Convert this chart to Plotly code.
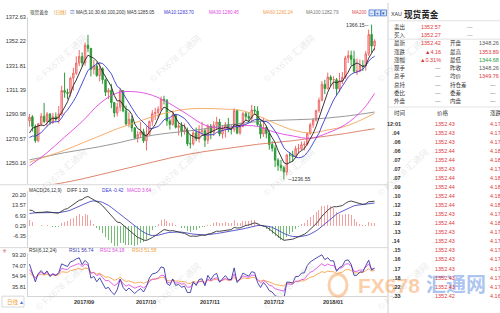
import numpy as np
import pandas as pd
import plotly.graph_objects as go

# ---------------- data ----------------
holidays = [pd.Timestamp("2017-12-25"), pd.Timestamp("2018-01-01")]
dates = [d for d in pd.bdate_range("2017-08-11", "2018-01-26") if d not in holidays]

opens = [1285.6,1289.0,1281.0,1269.0,1283.1,1289.5,1285.0,1291.3,1284.6,1289.0,1287.0,1291.4,1311.0,1309.5,1308.6,
         1321.4,1325.5,1334.0,1339.4,1334.1,1348.9,1346.3,1328.7,1331.6,1323.5,1329.3,1320.1,1309.6,1311.2,1300.9,1292.2,1297.2,1310.9,1294.0,1283.1,1287.0,
         1279.7,1271.3,1274.3,1276.5,1268.9,1274.3,1285.0,1291.7,1292.6,1295.4,1303.5,1302.8,1285.6,1282.6,1290.2,1280.2,1281.6,1276.7,1277.8,1266.5,1266.3,1275.6,
         1270.6,1276.6,1277.4,1269.4,1281.2,1275.9,1282.0,1284.6,1274.6,1278.3,1282.5,1278.7,1278.5,1294.2,1275.4,1280.9,1291.6,1289.3,1287.8,1294.7,1293.9,1282.6,
         1274.6,1280.1,1275.0,1265.8,1262.7,1252.7,1248.4,1246.4,1242.8,1257.1,1257.0,1255.9,1262.3,1262.4,1265.6,1266.1,1274.9,1282.3,1286.3,1294.3,
         1302.8,1316.2,1312.6,1322.3,1319.9,1320.1,1312.4,1319.1,1322.1,1338.3,1340.4,1337.2,1327.1,1327.3,1331.8,1331.6,1341.7,1357.9,1348.26]
highs = [1291.3,1290.4,1282.5,1283.9,1292.2,1300.6,1293.0,1292.2,1292.3,1292.6,1298.0,1315.0,1326.0,1312.5,1322.5,
         1330.0,1339.6,1344.9,1343.0,1351.2,1357.6,1346.6,1336.6,1334.7,1334.4,1330.4,1320.9,1313.0,1316.6,1301.4,1300.9,1313.0,1311.4,1298.5,1292.7,1290.0,
         1280.5,1277.0,1284.7,1279.0,1281.0,1285.9,1294.6,1296.6,1297.8,1306.0,1306.6,1304.0,1287.6,1294.0,1291.5,1284.0,1284.5,1283.3,1280.0,1274.0,1277.4,1280.0,
         1282.0,1284.8,1279.1,1282.8,1283.0,1285.2,1289.0,1287.3,1282.0,1284.5,1288.1,1282.0,1296.1,1295.0,1284.0,1293.0,1293.0,1293.0,1299.0,1298.1,1297.8,1286.0,
         1288.3,1281.4,1277.5,1268.6,1265.2,1254.4,1253.0,1248.0,1258.0,1259.4,1260.5,1264.7,1266.2,1268.3,1268.6,1276.0,1284.0,1288.0,1294.8,1305.1,
         1318.9,1320.0,1326.0,1323.8,1323.0,1321.5,1325.8,1326.5,1340.0,1344.5,1344.4,1344.3,1337.8,1337.0,1336.4,1344.0,1362.0,1366.15,1353.89]
lows = [1281.0,1276.7,1267.3,1267.7,1281.0,1283.7,1281.0,1282.3,1283.0,1285.3,1283.5,1289.9,1305.0,1303.7,1306.0,
        1311.0,1324.0,1331.5,1331.1,1331.7,1343.2,1322.8,1324.5,1322.5,1318.6,1316.6,1306.4,1303.8,1296.2,1288.6,1289.3,1293.6,1292.8,1281.5,1280.2,1276.5,
        1270.0,1267.4,1271.4,1267.1,1260.9,1273.4,1281.5,1286.3,1287.6,1293.8,1299.3,1281.5,1278.3,1281.6,1279.2,1273.4,1272.4,1274.0,1264.6,1262.5,1265.0,1268.5,
        1267.4,1273.0,1263.8,1266.3,1270.3,1272.9,1278.3,1272.7,1270.8,1271.6,1276.0,1274.2,1276.3,1274.3,1274.0,1280.2,1286.0,1284.7,1284.5,1291.0,1281.0,1270.8,
        1272.2,1271.0,1261.6,1260.0,1246.9,1243.8,1243.5,1236.55,1240.0,1251.0,1251.4,1254.4,1258.4,1261.0,1260.9,1265.0,1274.0,1279.8,1285.0,1292.4,
        1302.0,1308.0,1311.8,1314.7,1312.3,1306.9,1309.6,1316.5,1320.8,1334.0,1332.0,1325.9,1323.8,1326.2,1327.4,1327.6,1340.0,1342.6,1344.68]
closes = [1288.7,1281.0,1269.0,1283.1,1289.5,1285.0,1291.3,1284.6,1289.0,1287.0,1291.4,1311.0,1309.5,1308.6,1321.4,
          1325.5,1334.0,1339.4,1334.1,1348.9,1346.3,1328.7,1331.6,1323.5,1329.3,1320.1,1309.6,1311.2,1300.9,1292.2,1297.2,1310.9,1294.0,1283.1,1287.0,1279.7,
          1271.3,1274.3,1276.5,1268.9,1274.3,1285.0,1291.7,1292.6,1295.4,1303.5,1302.8,1285.6,1282.6,1290.2,1280.2,1281.6,1276.7,1277.8,1266.5,1266.3,1275.6,1270.6,
          1276.6,1277.4,1269.4,1281.2,1275.9,1282.0,1284.6,1274.6,1278.3,1282.5,1278.7,1278.5,1294.2,1275.4,1280.9,1291.6,1289.3,1287.8,1294.7,1293.9,1282.6,1274.6,
          1280.1,1275.0,1265.8,1262.7,1252.7,1248.4,1246.4,1242.8,1257.1,1257.0,1255.9,1262.3,1262.4,1265.6,1266.1,1274.9,1282.3,1286.3,1294.3,1302.8,
          1316.2,1312.6,1322.3,1319.9,1320.1,1312.4,1319.1,1322.1,1338.3,1340.4,1337.2,1327.1,1327.3,1331.8,1331.6,1341.7,1357.9,1348.26,1352.42]
# closes just before the first visible candle (warm-up for MA5 / MA10 / RSI)
warmup_close = [1268.8, 1269.9, 1268.9, 1274.1, 1257.7, 1261.1, 1263.9, 1277.9, 1285.6]

ma_idx = [0, 6, 12, 18, 24, 30, 36, 42, 48, 54, 60, 66, 72, 78, 84, 90, 96, 102, 108, 114, 118]
ma30 = [1248, 1259, 1272, 1285, 1300, 1309, 1310, 1307, 1300, 1291, 1282, 1279.5, 1281.5, 1281, 1276, 1273, 1271, 1275.5, 1282.5, 1295, 1308.5]
ma60 = [1251, 1256, 1261, 1267, 1273, 1279, 1284, 1289, 1293, 1295.5, 1296, 1295.5, 1294.5, 1290, 1283.5, 1278, 1275.5, 1278, 1281, 1287, 1292]
ma100 = [1253, 1256, 1259, 1261.5, 1264, 1267, 1270.5, 1273.5, 1275.5, 1277, 1279, 1281.5, 1283.5, 1285, 1286, 1286.5, 1287, 1288, 1289.5, 1291.5, 1293]
ma200 = [1229, 1231.5, 1234, 1237, 1240.5, 1244, 1247.5, 1251, 1254.5, 1257.5, 1260, 1262, 1264, 1266, 1267.5, 1269, 1271, 1273, 1275, 1277.5, 1279]

# indicator state just before the first candle
macd_seed = dict(ema12=1272.5, ema26=1262.5, dea=7.8)
rsi_seed = {6: (75.0, 7.0), 12: (66.0, 6.5), 24: (60.0, 6.0)}

price_ticks = [1372.63, 1352.22, 1331.81, 1311.39, 1290.98, 1270.57, 1250.16]
macd_ticks = [20.20, 13.57, 6.93, 0.29, -6.35]
rsi_ticks = [93.20, 74.07, 54.94, 35.81]

quote_rows = [("卖出", "1352.57", "#e0363c"),
              ("买入", "1352.27", "#e0363c")]
info_rows = [("最新", "1352.42", "#e0363c", "开盘", "1348.26", "#555555"),
             ("涨跌", "▲4.16", "#e0363c", "最高", "1353.89", "#e0363c"),
             ("涨幅", "▲0.31%", "#e0363c", "最低", "1344.68", "#2a9d3a"),
             ("现手", "—", "#777777", "昨收", "1348.26", "#555555"),
             ("总手", "—", "#777777", "均价", "1349.76", "#e0363c"),
             ("总持", "—", "#777777", "持仓差", "—", "#777777"),
             ("委比", "—", "#777777", "委差", "—", "#777777"),
             ("外盘", "—", "#777777", "内盘", "—", "#777777")]
tick_times = ["12:01", ".04", ".06", ".06", ".07", ".07", ".07", ".09", ".10", ".12",
              ".12", ".12", ".13", ".14", ".15", ".16", ".17", ".18", ".22", ".33"]
tick_prices = ["1352.43", "1352.43", "1352.43", "1352.44", "1352.44", "1352.43", "1352.44", "1352.44", "1352.44", "1352.44",
               "1352.43", "1352.44", "1352.43", "1352.43", "1352.43", "1352.43", "1352.43", "1352.43", "1352.43", "1352.42"]
tick_chg = ["4.17", "4.17", "4.17", "4.18", "4.18", "4.17", "4.18", "4.18", "4.18", "4.18",
            "4.17", "4.18", "4.17", "4.17", "4.17", "4.17", "4.17", "4.17", "4.17", "4.16"]

# ---------------- indicators ----------------
N = len(closes)
xi = np.arange(N)
allc = pd.Series(warmup_close + closes)
ma5 = allc.rolling(5).mean().values[-N:]
ma10 = allc.rolling(10).mean().values[-N:]

e12, e26, dea = macd_seed["ema12"], macd_seed["ema26"], macd_seed["dea"]
diff_l, dea_l, hist_l = [], [], []
for c in closes:
    e12 = (2 * c + 11 * e12) / 13
    e26 = (2 * c + 25 * e26) / 27
    d = e12 - e26
    dea = (2 * d + 8 * dea) / 10
    diff_l.append(d); dea_l.append(dea); hist_l.append(2 * (d - dea))

rsi = {}
for n, (r0, a0) in rsi_seed.items():
    g, a = r0 / 100 * a0, a0
    prev = warmup_close[-1]
    out = []
    for c in closes:
        ch = c - prev
        g = (max(ch, 0) + (n - 1) * g) / n
        a = (abs(ch) + (n - 1) * a) / n
        out.append(100 * g / a if a else 50)
        prev = c
    rsi[n] = out

# ---------------- geometry helpers ----------------
W, H = 500, 313
def PX(x): return x / W
def PY(y): return 1 - y / H

s = 2.924; x0 = 29.5
xr = [(28 - x0) / s, (387 - x0) / s]
FONT = "Liberation Sans, Noto Sans CJK SC, sans-serif"
RED = "#f06a6a"; GREEN = "#2f9a3a"

fig = go.Figure()
fig.add_trace(go.Candlestick(x=xi, open=opens, high=highs, low=lows, close=closes,
                             increasing=dict(line=dict(color=RED, width=1), fillcolor="#fbd6d6"),
                             decreasing=dict(line=dict(color=GREEN, width=1), fillcolor=GREEN),
                             whiskerwidth=0, xaxis="x", yaxis="y", showlegend=False, hoverinfo="skip"))
for y, col in [(ma200, "#d9785e"), (ma100, "#8c8c8c"), (ma60, "#f5a65b"), (ma30, "#e146e1")]:
    fig.add_trace(go.Scatter(x=ma_idx, y=y, mode="lines", line=dict(color=col, width=0.9, shape="spline"),
                             xaxis="x", yaxis="y", showlegend=False, hoverinfo="skip"))
fig.add_trace(go.Scatter(x=xi, y=ma10, mode="lines", line=dict(color="#3a3ad0", width=0.9),
                         xaxis="x", yaxis="y", showlegend=False, hoverinfo="skip"))
fig.add_trace(go.Scatter(x=xi, y=ma5, mode="lines", line=dict(color="#222222", width=0.9),
                         xaxis="x", yaxis="y", showlegend=False, hoverinfo="skip"))

bar_cols = ["#f3a0a0" if h >= 0 else "#74bd74" for h in hist_l]
fig.add_trace(go.Bar(x=xi, y=hist_l, width=0.34, marker=dict(color=bar_cols, line=dict(width=0)),
                     xaxis="x2", yaxis="y2", showlegend=False, hoverinfo="skip"))
fig.add_trace(go.Scatter(x=xi, y=dea_l, mode="lines", line=dict(color="#4848c8", width=0.9),
                         xaxis="x2", yaxis="y2", showlegend=False, hoverinfo="skip"))
fig.add_trace(go.Scatter(x=xi, y=diff_l, mode="lines", line=dict(color="#333333", width=0.9),
                         xaxis="x2", yaxis="y2", showlegend=False, hoverinfo="skip"))

for n, col in [(24, "#f5a54a"), (12, "#e050e0"), (6, "#3838a8")]:
    fig.add_trace(go.Scatter(x=xi, y=rsi[n], mode="lines", line=dict(color=col, width=0.9),
                             xaxis="x3", yaxis="y3", showlegend=False, hoverinfo="skip"))

def yax(dom_px, rng, ticks):
    return dict(domain=[PY(dom_px[1]), PY(dom_px[0])], range=rng, tickvals=ticks,
                ticktext=[f"{t:.2f}" for t in ticks], tickfont=dict(size=5.6, color="#333", family=FONT),
                showgrid=False, zeroline=False, showline=True, linecolor="#d4d4d4", linewidth=1, ticks="",
                fixedrange=True)

xcommon = dict(domain=[PX(28), PX(387)], range=xr, showticklabels=False, showgrid=False, zeroline=False, fixedrange=True)
layout = dict(width=W, height=H, margin=dict(l=0, r=0, t=0, b=0), paper_bgcolor="white", plot_bgcolor="white",
              showlegend=False, bargap=0,
              xaxis=dict(**xcommon, anchor="y", rangeslider=dict(visible=False)),
              xaxis2=dict(**xcommon, anchor="y2"),
              xaxis3=dict(**xcommon, anchor="y3", showline=True, linecolor="#d4d4d4"),
              yaxis=dict(**yax((14, 183), [1232.57, 1372.63], price_ticks), anchor="x"),
              yaxis2=dict(**yax((190, 246), [-13.07, 22.76], macd_ticks), anchor="x2"),
              yaxis3=dict(**yax((252, 296), [19.9, 97.6], rsi_ticks), anchor="x3"))
fig.update_layout(**layout)

ann = []; shapes = []
def T(x, y, text, color="#333", size=5.5, xanchor="left", **kw):
    ann.append(dict(x=PX(x), y=PY(y), xref="paper", yref="paper", text=text, showarrow=False,
                    xanchor=xanchor, yanchor="middle", font=dict(size=size, color=color, family=FONT), **kw))
def L(x0_, y0_, x1_, y1_, color="#d8d8d8", w=1):
    shapes.append(dict(type="line", xref="paper", yref="paper", x0=PX(x0_), y0=PY(y0_), x1=PX(x1_), y1=PY(y1_),
                       line=dict(color=color, width=w)))

# watermarks
for cx in [61, 175, 289, 403]:
    for cy in [57, 172, 287]:
        T(cx, cy, "© FX678 汇通网", color="rgba(150,150,150,0.22)", size=9, xanchor="center", textangle=-42)
shapes.append(dict(type="circle", xref="paper", yref="paper", x0=PX(329), x1=PX(347), y0=PY(296), y1=PY(274),
                   line=dict(color="rgba(245,160,90,0.5)", width=3)))
T(356, 285, "<b>FX678</b>", color="rgba(247,165,95,0.55)", size=21)
T(424, 285, "<b>汇通网</b>", color="rgba(90,140,225,0.5)", size=20)

# header of main panel
hdr = [(28, "现货黄金", "#333"), (52, "(日线)", "#e89a2a"), (68, "☑", "#3c64c8"), (74, "MA(5,10,30,60,100,200)", "#333"),
       (125, "MA5:1285.05", "#333"), (162, "MA10:1283.70", "#3a3ad0"), (207, "MA30:1280.45", "#e146e1"),
       (261, "MA60:1282.24", "#f0a050"), (304, "MA100:1282.79", "#777"), (350, "MA200", "#e05050")]
for x, t, c in hdr:
    T(x, 9.5, t, color=c, size=4.6)
for i, sym in enumerate(["−", "+", "▾"]):
    shapes.append(dict(type="rect", xref="paper", yref="paper", x0=PX(369 + 6 * i), x1=PX(374.5 + 6 * i),
                       y0=PY(13), y1=PY(7), line=dict(color="#4a78d0", width=0.8), fillcolor="#dbe6fb"))
    T(371.7 + 6 * i, 10, sym, color="#2a50b0", size=5, xanchor="center")

# high / low marks
ann.append(dict(x=117 - 0.3, y=1366.15, xref="x", yref="y", text="1366.15─", showarrow=False, xanchor="right",
                yanchor="middle", font=dict(size=5.2, color="#333", family=FONT)))
ann.append(dict(x=87 + 0.3, y=1236.55, xref="x", yref="y", text="─1236.55", showarrow=False, xanchor="left",
                yanchor="middle", font=dict(size=5.2, color="#333", family=FONT)))

# MACD / RSI headers
for x, t, c in [(27, "MACD(26,12,9)", "#333"), (65, "DIFF 1.20", "#333"), (100, "DEA -0.42", "#3a3ad0"), (125, "MACD 3.64", "#e146e1")]:
    T(x, 189, t, color=c, size=4.7)
T(4, 250, "✳", color="#d07070", size=6, xanchor="center")
for x, t, c in [(27, "RSI(6,12,24)", "#333"), (67, "RSI1 56.74", "#3838a8"), (98, "RSI2 54.18", "#e050e0"), (130, "RSI3 51.58", "#f0a040")]:
    T(x, 250, t, color=c, size=4.9)

# month labels
months = [i for i in range(1, N) if dates[i].month != dates[i - 1].month]
for i in months:
    ann.append(dict(x=i - 0.4, y=PY(301.5), xref="x3", yref="paper", text=f"<b>{dates[i].strftime('%Y/%m')}</b>",
                    showarrow=False, xanchor="left", yanchor="middle", font=dict(size=5.6, color="#333", family=FONT)))

# bottom-left period button
shapes.append(dict(type="rect", xref="paper", yref="paper", x0=PX(2), x1=PX(24), y0=PY(307), y1=PY(296),
                   line=dict(color="#cfcfcf", width=0.8), fillcolor="white"))
T(4.5, 301.5, '<span style="color:#f0a030">日线</span> <span style="color:#4a6fd0">▴</span>', size=5.5)

# panel separators
L(0, 183.5, 388, 183.5)
L(0, 247, 388, 247)
L(388, 0, 388, H, color="#cfcfcf")

# right quote panel
T(389, 11.5, "XAU", color="#333", size=5.3)
T(402, 11.5, "<b>现货黄金</b>", color="#222", size=8.6)
L(388, 18, 500, 18, color="#e2e2e2")
for k, (lab, val, vc) in enumerate(quote_rows):
    y = 24 + 8.3 * k
    T(392, y, lab, size=5.5)
    T(443, y, val, color=vc, size=5.5, xanchor="right")
    T(470, y, "—", color="#888", size=5.5, xanchor="center")
L(388, 36.5, 500, 36.5, color="#e2e2e2")
for k, (lab, val, vc, lab2, val2, vc2) in enumerate(info_rows):
    y = 40.7 + 8.33 * k
    T(392, y, lab, size=5.5)
    T(443, y, val, color=vc, size=5.5, xanchor="right")
    T(448, y, lab2, size=5.5)
    if val2 == "—":
        T(493, y, val2, color=vc2, size=5.5, xanchor="center")
    else:
        T(477, y, val2, color=vc2, size=5.5)
L(388, 105, 500, 105, color="#e2e2e2")
T(392, 111, "时间", size=5.5)
T(443, 111, "价格", size=5.5, xanchor="center")
T(488, 111, "涨跌", size=5.5)
for k in range(len(tick_times)):
    y = 121.7 + 9.15 * k
    T(403, y, f"<b>{tick_times[k]}</b>", color="#333", size=5.5, xanchor="right")
    T(445, y, tick_prices[k], color="#e0363c", size=5.5, xanchor="center")
    T(488, y, tick_chg[k], color="#e0363c", size=5.5)

fig.update_layout(annotations=ann, shapes=shapes)
fig.write_html("out.html", config={"displayModeBar": False, "staticPlot": True})
